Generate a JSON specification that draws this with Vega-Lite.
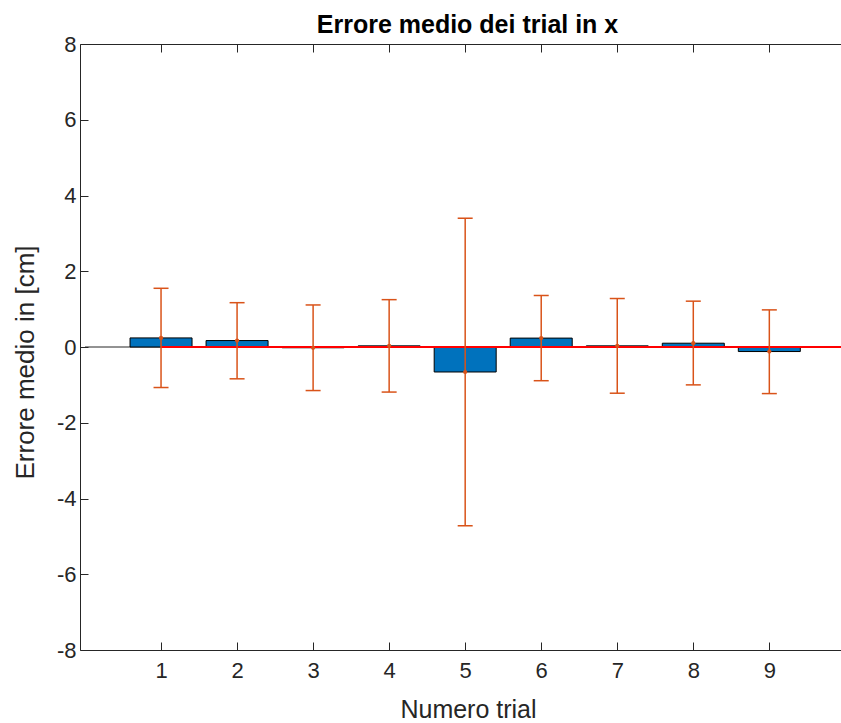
{
  "$schema": "https://vega.github.io/schema/vega-lite/v6.json",
  "width": 762,
  "height": 606,
  "autosize": {"type": "none"},
  "padding": {"left": 80, "top": 44, "right": 0, "bottom": 73},
  "background": "white",
  "datasets": {
    "trials": [
      {"trial": 1, "mean": 0.24, "lo": -1.07, "hi": 1.55},
      {"trial": 2, "mean": 0.17, "lo": -0.84, "hi": 1.17},
      {"trial": 3, "mean": -0.02, "lo": -1.15, "hi": 1.11},
      {"trial": 4, "mean": 0.03, "lo": -1.19, "hi": 1.25},
      {"trial": 5, "mean": -0.66, "lo": -4.72, "hi": 3.40},
      {"trial": 6, "mean": 0.235, "lo": -0.89, "hi": 1.36},
      {"trial": 7, "mean": 0.03, "lo": -1.22, "hi": 1.28},
      {"trial": 8, "mean": 0.10, "lo": -1.00, "hi": 1.21},
      {"trial": 9, "mean": -0.12, "lo": -1.23, "hi": 0.98}
    ],
    "baseline": [{"from": 0, "to": 10, "y": 0}],
    "redline": [{"from": 1, "to": 10, "y": 0}]
  },
  "layer": [
    {
      "data": {"name": "baseline"},
      "mark": {"type": "rule", "color": "#262626", "strokeWidth": 1, "clip": true},
      "encoding": {
        "x": {
          "field": "from", "type": "quantitative",
          "scale": {"domain": [0, 9.89], "nice": false, "zero": false},
          "axis": {
            "orient": "top", "values": [1, 2, 3, 4, 5, 6, 7, 8, 9], "labels": false,
            "title": "Errore medio dei trial in x",
            "titleFontSize": 25, "titleFontWeight": "bold", "titleColor": "#000000",
            "titleBaseline": "alphabetic", "titleAlign": "center", "titleX": 387, "titleY": -12,
            "minExtent": 0, "maxExtent": 0
          }
        },
        "x2": {"field": "to"},
        "y": {
          "field": "y", "type": "quantitative",
          "scale": {"domain": [-8, 8], "nice": false},
          "axis": null
        }
      }
    },
    {
      "data": {"name": "trials"},
      "mark": {"type": "bar", "width": 62, "fill": "#0072BD", "stroke": "#000000", "strokeWidth": 1, "clip": true},
      "encoding": {
        "x": {
          "field": "trial", "type": "quantitative",
          "axis": {
            "orient": "bottom", "values": [1, 2, 3, 4, 5, 6, 7, 8, 9],
            "title": "Numero trial", "titleFontSize": 25,
            "titleBaseline": "alphabetic", "titleX": 388, "titleY": 67, "titleAlign": "center",
            "labelPadding": 18
          }
        },
        "y": {
          "field": "mean", "type": "quantitative",
          "axis": {
            "orient": "left", "values": [-8, -6, -4, -2, 0, 2, 4, 6, 8],
            "labelExpr": "toString(datum.value)",
            "title": "Errore medio in [cm]", "titleFontSize": 26,
            "titleBaseline": "alphabetic", "titleAngle": -90, "titleX": -47, "titleY": 318, "titleAlign": "center",
            "labelPadding": 12
          }
        },
        "y2": {"datum": 0}
      }
    },
    {
      "data": {"name": "redline"},
      "mark": {"type": "rule", "color": "#FF0000", "strokeWidth": 1.8, "clip": true},
      "encoding": {
        "x": {"field": "from", "type": "quantitative", "axis": null},
        "x2": {"field": "to"},
        "y": {"field": "y", "type": "quantitative", "axis": null}
      }
    },
    {
      "data": {"name": "trials"},
      "mark": {"type": "rule", "color": "#D95319", "strokeWidth": 1.5},
      "encoding": {
        "x": {"field": "trial", "type": "quantitative", "axis": null},
        "y": {"field": "lo", "type": "quantitative", "axis": null},
        "y2": {"field": "hi"}
      }
    },
    {
      "data": {"name": "trials"},
      "mark": {"type": "tick", "orient": "horizontal", "size": 15, "thickness": 1.5, "color": "#D95319", "opacity": 1},
      "encoding": {
        "x": {"field": "trial", "type": "quantitative", "axis": null},
        "y": {"field": "lo", "type": "quantitative", "axis": null}
      }
    },
    {
      "data": {"name": "trials"},
      "mark": {"type": "tick", "orient": "horizontal", "size": 15, "thickness": 1.5, "color": "#D95319", "opacity": 1},
      "encoding": {
        "x": {"field": "trial", "type": "quantitative", "axis": null},
        "y": {"field": "hi", "type": "quantitative", "axis": null}
      }
    },
    {
      "data": {"name": "trials"},
      "mark": {"type": "point", "filled": true, "size": 18, "color": "#D95319", "opacity": 1},
      "encoding": {
        "x": {"field": "trial", "type": "quantitative", "axis": null},
        "y": {"field": "mean", "type": "quantitative", "axis": null}
      }
    }
  ],
  "resolve": {"axis": {"x": "independent", "y": "independent"}},
  "config": {
    "view": {"stroke": "#262626", "strokeWidth": 1},
    "axis": {
      "domain": false,
      "grid": false,
      "tickSize": -8,
      "tickWidth": 1,
      "tickColor": "#262626",
      "labelFont": "Liberation Sans",
      "labelFontSize": 22,
      "labelColor": "#262626",
      "titleFont": "Liberation Sans",
      "titleFontWeight": "normal",
      "titleColor": "#262626"
    }
  }
}
